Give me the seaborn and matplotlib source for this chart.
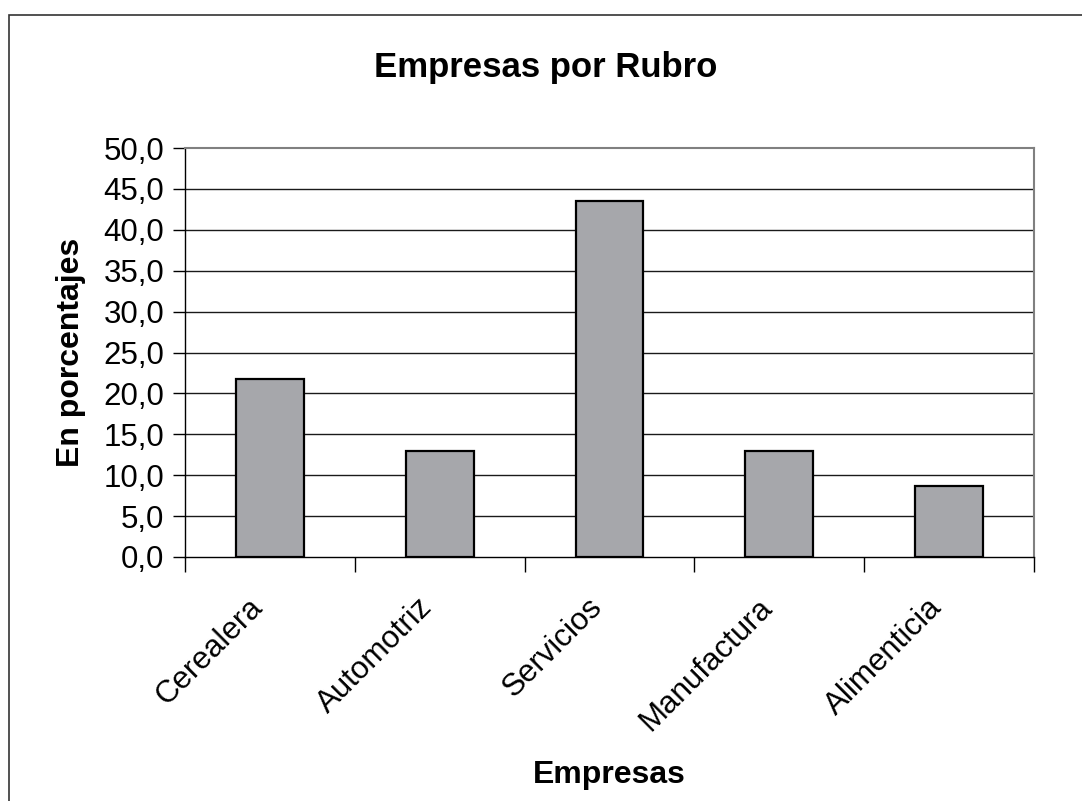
import matplotlib
matplotlib.use("Agg")
import matplotlib.pyplot as plt
from matplotlib.patches import Rectangle
from matplotlib.ticker import FuncFormatter, FixedLocator
from matplotlib.transforms import ScaledTranslation
import seaborn as sns
import pandas as pd

# Share of companies by sector (%)
rubros = ["Cerealera", "Automotriz", "Servicios", "Manufactura", "Alimenticia"]
porcentajes = [21.7, 13.0, 43.5, 13.0, 8.7]
yticks = [0, 5, 10, 15, 20, 25, 30, 35, 40, 45, 50]

df = pd.DataFrame({"Empresas": rubros, "Porcentaje": porcentajes})

sns.set_theme(style="white")
plt.rcParams["font.family"] = ["Liberation Sans", "DejaVu Sans"]
plt.rcParams["text.color"] = "black"
plt.rcParams["axes.labelcolor"] = "black"
plt.rcParams["xtick.color"] = "black"
plt.rcParams["ytick.color"] = "black"

fig = plt.figure(figsize=(10.82, 8.01), dpi=100)
W, H = 1082, 801
ax = fig.add_axes([185 / W, 1 - 557 / H, (1034 - 185) / W, (557 - 148) / H])

sns.barplot(data=df, x="Empresas", y="Porcentaje", ax=ax, color="#a6a7ab",
            saturation=1, width=0.4, edgecolor="black", linewidth=1.6, zorder=3)

ax.set_xlim(-0.5, len(rubros) - 0.5)
ax.set_ylim(0, 50)
ax.set_yticks(yticks)
ax.yaxis.set_major_formatter(FuncFormatter(lambda v, p: f"{v:.1f}".replace(".", ",")))

# horizontal grid
for v in yticks[1:-1]:
    ax.axhline(v, color="#1a1a1a", lw=1.0, zorder=1)

# spines
for s in ["left", "bottom"]:
    ax.spines[s].set_color("black")
    ax.spines[s].set_linewidth(1.0)
for s in ["top", "right"]:
    ax.spines[s].set_color("#808080")
    ax.spines[s].set_linewidth(1.5)

ax.tick_params(axis="y", direction="out", length=9, width=1,
               labelsize=22.5, pad=6, left=True)
ax.tick_params(axis="x", which="major", length=0, labelsize=22.5, pad=33)
ax.xaxis.set_minor_locator(FixedLocator([i - 0.5 for i in range(len(rubros) + 1)]))
ax.tick_params(axis="x", which="minor", direction="out", length=11, width=1,
               bottom=True)

shift = ScaledTranslation(-12 / 100, 0, fig.dpi_scale_trans)
for lbl in ax.get_xticklabels():
    lbl.set_rotation(45)
    lbl.set_ha("right")
    lbl.set_va("center")
    lbl.set_rotation_mode("anchor")
    lbl.set_transform(lbl.get_transform() + shift)

ax.set_xlabel("Empresas", fontsize=23, fontweight="bold", labelpad=0)
ax.xaxis.set_label_coords(0.5, -(775 - 557) / (557 - 148))
ax.set_ylabel("En porcentajes", fontsize=23, fontweight="bold")
ax.yaxis.set_label_coords(-(185 - 71) / (1034 - 185), 0.5)
ax.xaxis.label.set_va("center")
ax.yaxis.label.set_va("center")

fig.text(546 / W, 1 - 68 / H, "Empresas por Rubro", ha="center", va="center",
         fontsize=25, fontweight="bold")

# chart frame
fig.patches.append(Rectangle((9 / W, -0.1), 1.2, 1 - 15 / H + 0.1,
                             transform=fig.transFigure, fill=False,
                             edgecolor="#333333", lw=1.2))

fig.savefig("out.png", dpi=100, facecolor="white")
